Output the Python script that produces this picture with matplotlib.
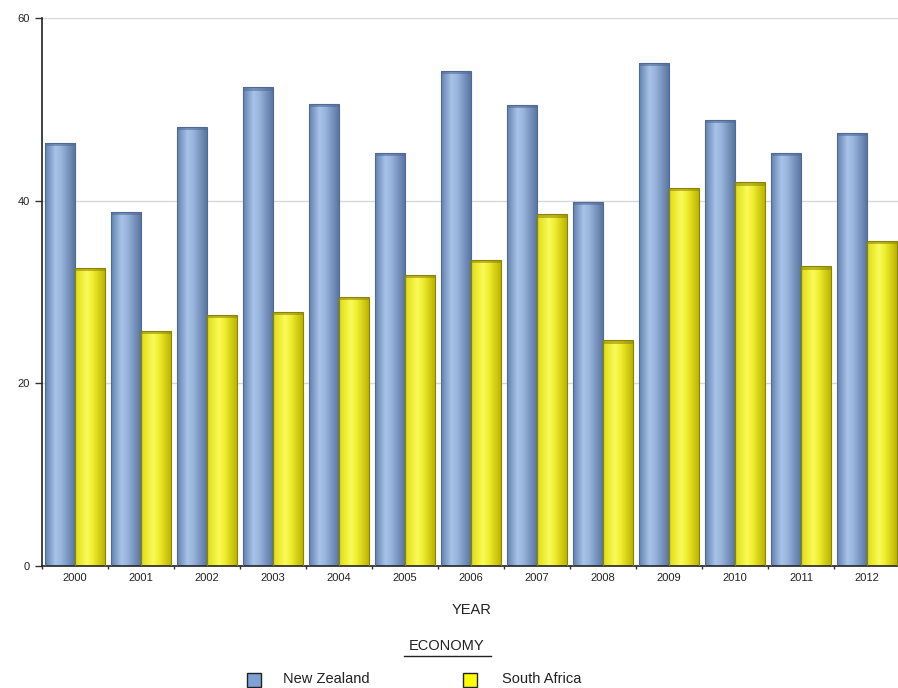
import numpy as np
import matplotlib
matplotlib.use("Agg")
import matplotlib.pyplot as plt
from matplotlib.colors import LinearSegmentedColormap
from matplotlib.patches import Rectangle
from matplotlib.lines import Line2D

plt.rcParams["font.family"] = ["Liberation Sans", "DejaVu Sans"]

years = ["2000", "2001", "2002", "2003", "2004", "2005", "2006",
         "2007", "2008", "2009", "2010", "2011", "2012"]
new_zealand = [46.3, 38.8, 48.1, 52.4, 50.6, 45.2, 54.2, 50.5, 39.9, 55.1, 48.8, 45.2, 47.4]
south_africa = [32.6, 25.7, 27.5, 27.8, 29.5, 31.9, 33.5, 38.5, 24.7, 41.4, 42.0, 32.8, 35.6]
series_names = ["New Zealand", "South Africa"]

# cylinder-like horizontal shading for each series
BLUE_CM = LinearSegmentedColormap.from_list(
    "nz", [(0, "#6482b0"), (0.35, "#a8c3e8"), (0.55, "#98b4dc"), (1, "#5a76a2")])
YEL_CM = LinearSegmentedColormap.from_list(
    "sa", [(0, "#e0dc10"), (0.4, "#fafa5a"), (0.6, "#f0ee30"), (1, "#bdb500")])
EDGE = {"nz": "#4f6a94", "sa": "#8a8400"}
SWATCH = ["#7ea2d6", "#ffff00"]

fig = plt.figure(figsize=(8.98, 6.88), dpi=100)
ax = fig.add_axes([42 / 898, 122 / 688, 858 / 898, 548 / 688])

x = np.arange(len(years))
w = 30 / 66
grad = np.linspace(0, 1, 64).reshape(1, -1)


def shaded_bars(xpos, vals, cmap, edge):
    bars = ax.bar(xpos, vals, width=w, color="none", edgecolor=edge, lw=0.8, zorder=3)
    for b in bars:
        x0, h = b.get_x(), b.get_height()
        im = ax.imshow(grad, cmap=cmap, extent=(x0, x0 + w, 0, h), aspect="auto",
                       origin="lower", zorder=2, interpolation="bilinear")
        clip = Rectangle((x0, 0), w, h, transform=ax.transData)
        im.set_clip_path(clip)
        # darker cap on top of the bar
        ax.add_patch(Rectangle((x0, h - 0.35), w, 0.35, color=edge, alpha=0.55,
                               lw=0, zorder=3))


shaded_bars(x - w / 2, new_zealand, BLUE_CM, EDGE["nz"])
shaded_bars(x + w / 2, south_africa, YEL_CM, EDGE["sa"])

ax.set_xlim(-0.5, len(years) - 0.5)
ax.set_ylim(0, 60)
ax.set_yticks([0, 20, 40, 60])
ax.set_xticks(x)
ax.set_xticklabels(years)
ax.set_xticks(np.arange(len(years) + 1) - 0.5, minor=True)
ax.tick_params(axis="x", which="major", length=0, labelsize=8, pad=5, colors="#222")
ax.tick_params(axis="x", which="minor", length=2, width=1, color="#333")
ax.tick_params(axis="y", length=5, width=1, labelsize=8, color="#333", colors="#222")
ax.yaxis.grid(True, color="#d8d8d8", lw=1, zorder=0)
ax.set_axisbelow(True)
for s in ("top", "right"):
    ax.spines[s].set_visible(False)
ax.spines["left"].set_color("#222")
ax.spines["bottom"].set_color("#222")
ax.spines["left"].set_linewidth(1.2)
ax.spines["bottom"].set_linewidth(1.2)

fig.text(472 / 898, 1 - 610 / 688, "YEAR", ha="center", va="center", fontsize=10.5, color="#222")
fig.text(447 / 898, 1 - 646 / 688, "ECONOMY", ha="center", va="center", fontsize=10.5, color="#222")
fig.add_artist(Line2D([404 / 898, 491 / 898], [1 - 656 / 688] * 2, color="#222", lw=1))

for name, col, sx, tx in zip(series_names, SWATCH, [247, 463], [283, 502]):
    fig.add_artist(Rectangle((sx / 898, 1 - 687 / 688), 14 / 898, 14 / 688,
                             transform=fig.transFigure, fc=col, ec="#222", lw=1))
    fig.text(tx / 898, 1 - 679 / 688, name, ha="left", va="center", fontsize=10.5, color="#222")

fig.savefig("out.png", dpi=100, facecolor="white")
